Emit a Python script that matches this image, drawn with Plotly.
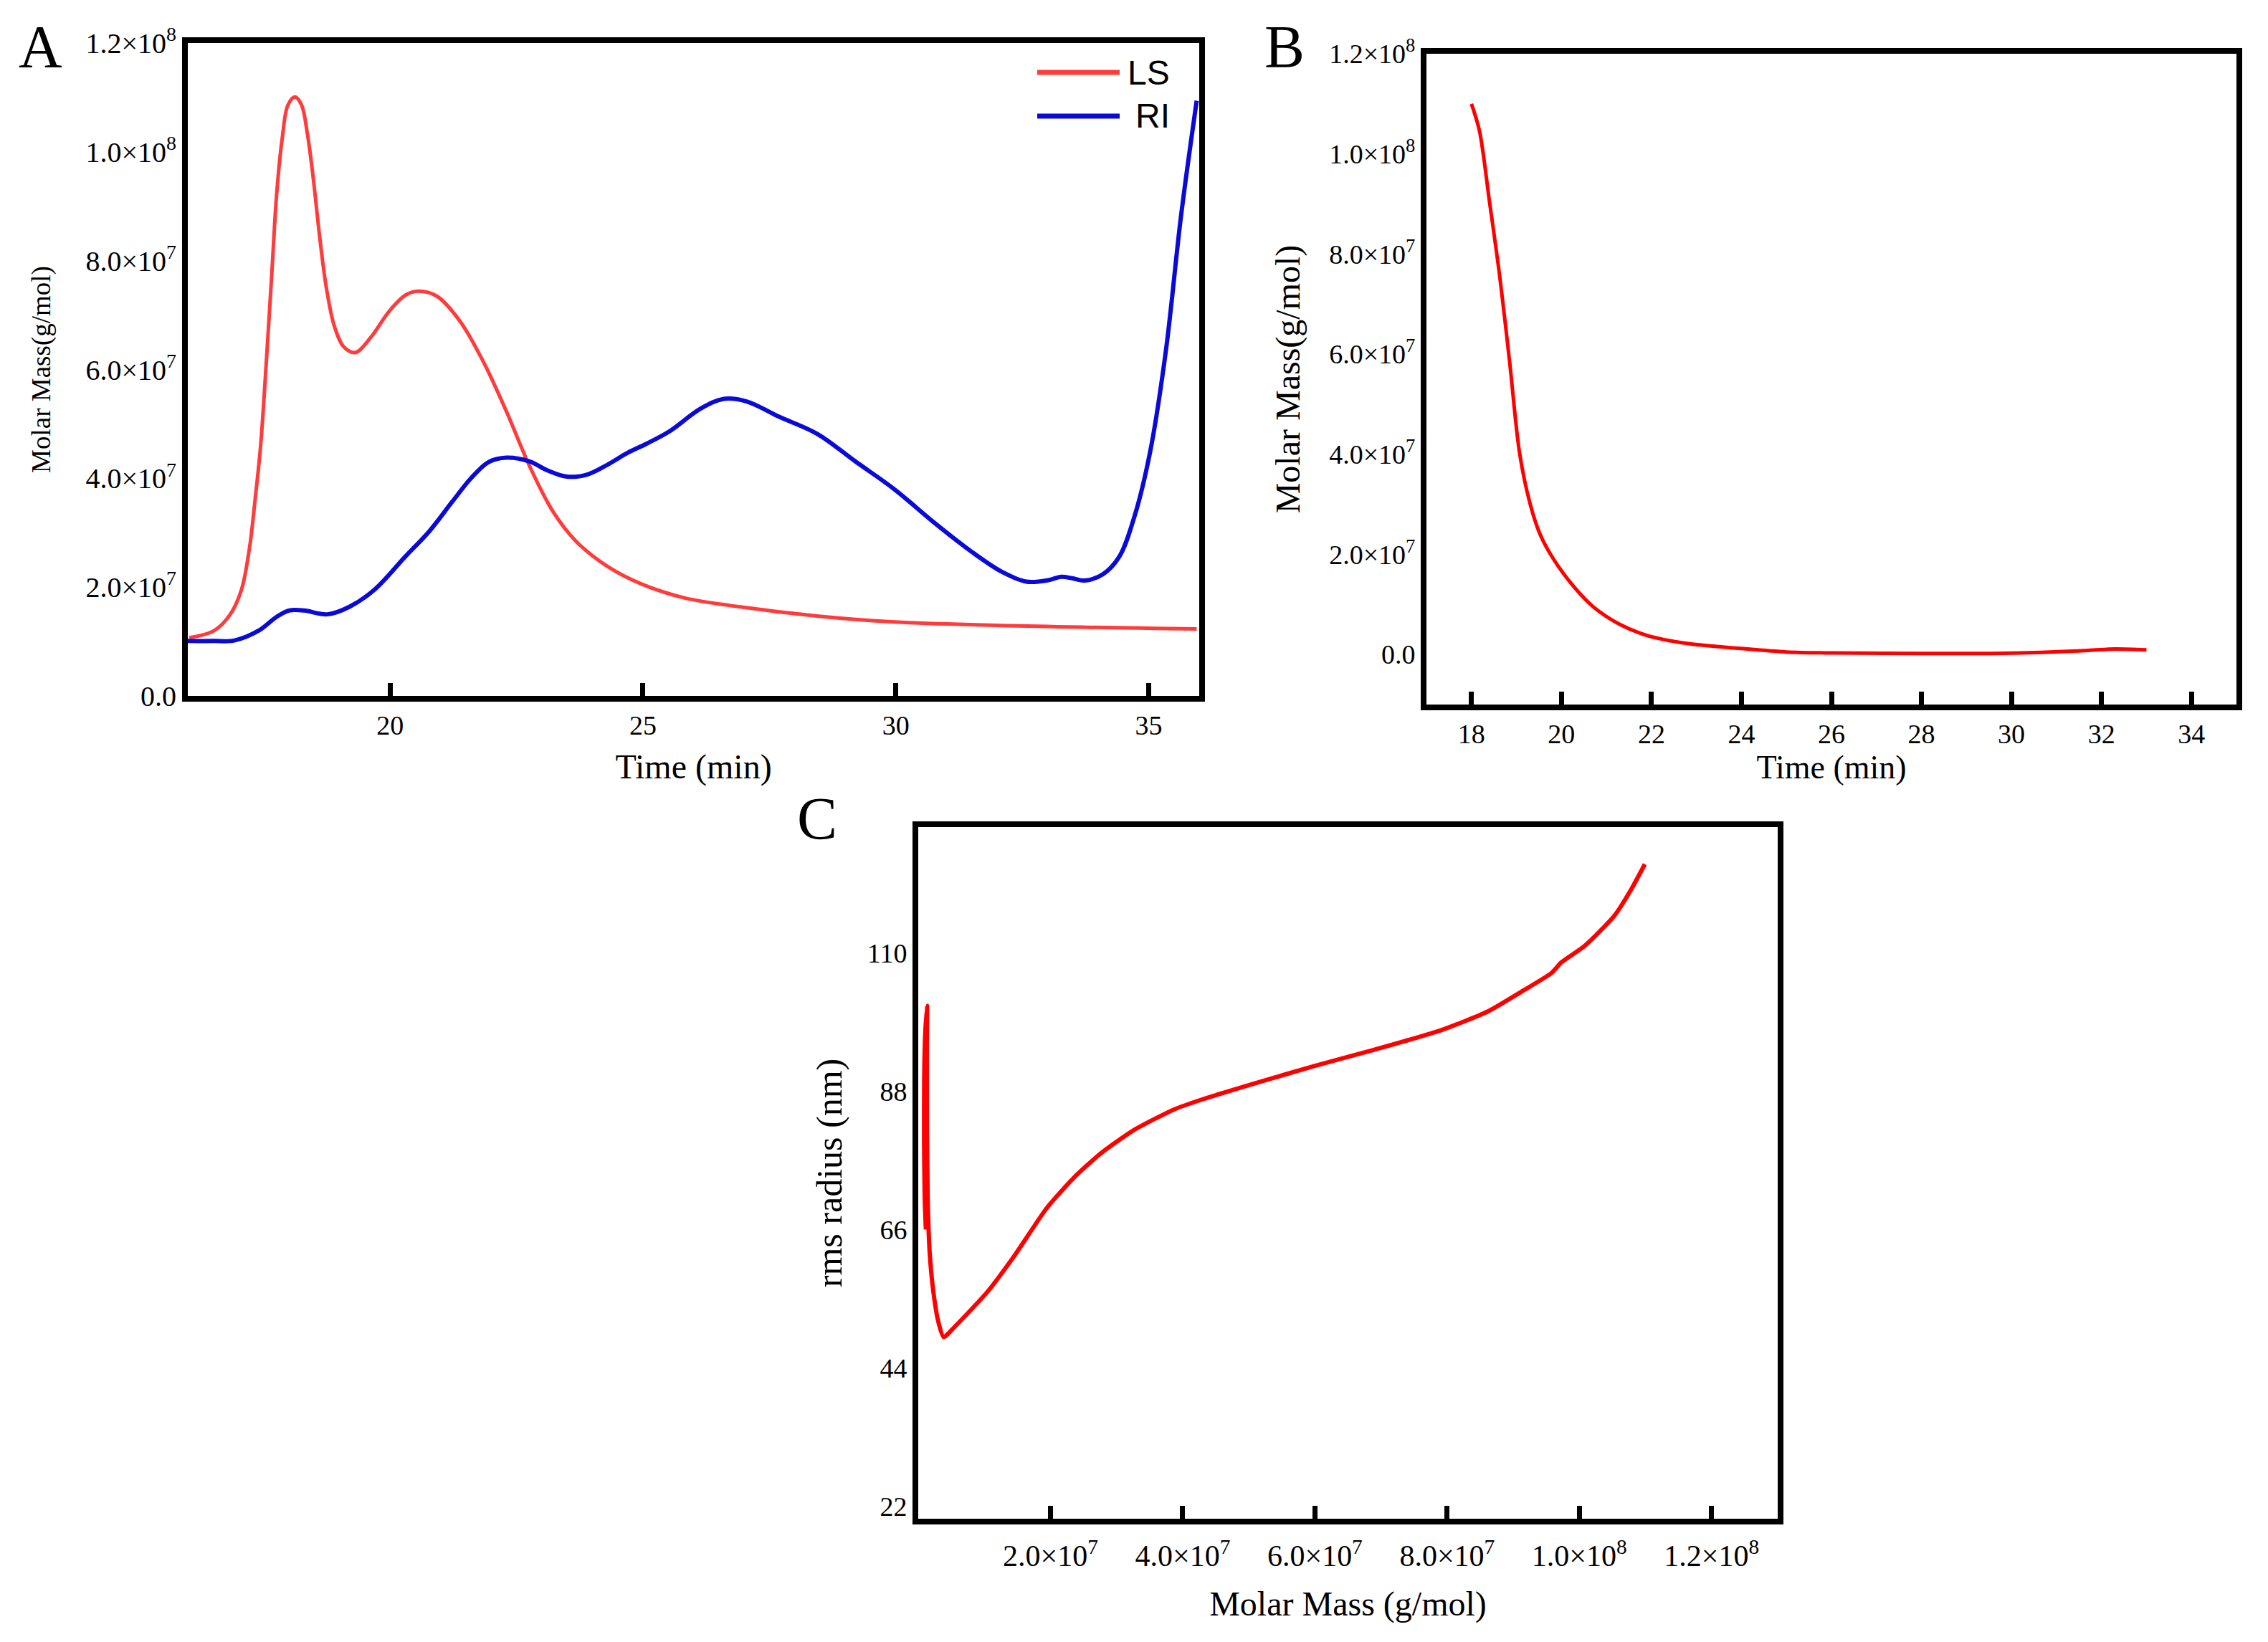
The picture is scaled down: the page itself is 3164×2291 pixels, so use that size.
import plotly.graph_objects as go

# ---------------- Data ----------------
# Panel A: LS and RI signals vs time
a_time_ls = [16.03, 16.52, 16.84, 17.06, 17.22, 17.33, 17.44, 17.55, 17.66, 17.76, 17.87, 17.98,
             18.12, 18.25, 18.36, 18.47, 18.61, 18.74, 18.9, 19.09, 19.31, 19.61, 19.99, 20.31,
             20.56, 20.92, 21.38, 21.84, 22.3, 22.76, 23.22, 23.68, 24.3, 24.99, 25.83, 26.9,
             28.44, 29.97, 32.27, 35.95]
a_ls = [1.07e7, 1.20e7, 1.50e7, 1.95e7, 2.72e7, 3.6e7, 4.6e7, 6.1e7, 7.75e7, 9.26e7, 1.027e8, 1.086e8,
        1.101e8, 1.086e8, 1.036e8, 9.6e7, 8.42e7, 7.5e7, 6.79e7, 6.41e7, 6.31e7, 6.58e7, 7.08e7, 7.37e7,
        7.44e7, 7.35e7, 6.89e7, 6.15e7, 5.23e7, 4.22e7, 3.39e7, 2.84e7, 2.38e7, 2.05e7, 1.80e7, 1.64e7,
        1.47e7, 1.36e7, 1.29e7, 1.23e7]

a_time_ri = [16.0, 16.5, 16.92, 17.4, 17.75, 18.0, 18.3, 18.76, 19.2, 19.7, 20.3, 20.77, 21.23, 21.6,
             21.95, 22.3, 22.76, 23.1, 23.5, 23.9, 24.3, 24.7, 25.06, 25.52, 26.14, 26.6, 27.06,
             27.67, 28.44, 29.2, 29.97, 30.74, 31.5, 32.1, 32.58, 33.03, 33.27, 33.5, 33.73, 34.1,
             34.42, 34.72, 35.03, 35.34, 35.64, 35.95]
a_ri = [1.01e7, 1.01e7, 1.02e7, 1.20e7, 1.45e7, 1.57e7, 1.57e7, 1.5e7, 1.64e7, 1.96e7, 2.56e7, 3.02e7,
        3.57e7, 4.0e7, 4.3e7, 4.38e7, 4.31e7, 4.15e7, 4.03e7, 4.07e7, 4.25e7, 4.47e7, 4.63e7, 4.86e7,
        5.28e7, 5.46e7, 5.41e7, 5.14e7, 4.82e7, 4.31e7, 3.8e7, 3.2e7, 2.65e7, 2.28e7, 2.1e7, 2.13e7,
        2.19e7, 2.16e7, 2.12e7, 2.24e7, 2.56e7, 3.3e7, 4.49e7, 6.34e7, 8.82e7, 1.094e8]

# Panel B: molar mass vs time
b_time = [18.0, 18.18, 18.4, 18.63, 18.85, 19.07, 19.3, 19.52, 19.82, 20.27, 20.71, 21.3, 21.9,
          22.79, 23.98, 25.0, 26.07, 28.0, 30.2, 31.7, 32.3, 33.0]
b_mass = [1.10e8, 1.045e8, 9.05e7, 7.54e7, 5.83e7, 4.02e7, 3.02e7, 2.41e7, 1.91e7, 1.36e7, 9.5e6,
          6.0e6, 3.8e6, 2.2e6, 1.2e6, 0.5e6, 0.3e6, 0.2e6, 0.3e6, 0.8e6, 1.1e6, 0.9e6]

# Panel C: rms radius vs molar mass
c_mass = [1.099e8, 1.079e8, 1.053e8, 1.008e8, 9.73e7, 9.58e7, 9.12e7, 8.62e7, 7.91e7, 6.9e7, 5.99e7,
          5.08e7, 4.27e7, 3.87e7, 3.26e7, 2.76e7, 2.35e7, 1.95e7, 1.44e7, 1.04e7, 5.4e6, 3.85e6,
          3.0e6, 2.3e6, 1.75e6, 1.45e6, 1.32e6, 1.3e6, 1.33e6, 1.05e6, 0.9e6, 0.88e6, 0.98e6, 1.15e6]
c_radius = [124.1, 120.2, 115.9, 111.1, 108.5, 106.8, 103.8, 100.7, 97.7, 94.6, 92.0,
            89.2, 86.6, 85.1, 81.8, 78.1, 74.2, 69.5, 61.6, 56.0, 50.4, 48.9,
            51.5, 56.0, 62.0, 70.0, 82.0, 94.0, 101.6, 97.0, 90.0, 80.0, 71.0, 66.0]

# Tick labels
mass_ticks_ab = [0, 2e7, 4e7, 6e7, 8e7, 1e8, 1.2e8]
mass_labels_ab = ["0.0", "2.0×10<sup>7</sup>", "4.0×10<sup>7</sup>", "6.0×10<sup>7</sup>",
                  "8.0×10<sup>7</sup>", "1.0×10<sup>8</sup>", "1.2×10<sup>8</sup>"]
a_time_ticks = [20, 25, 30, 35]
b_time_ticks = [18, 20, 22, 24, 26, 28, 30, 32, 34]
c_mass_ticks = [2e7, 4e7, 6e7, 8e7, 1e8, 1.2e8]
c_mass_labels = ["2.0×10<sup>7</sup>", "4.0×10<sup>7</sup>", "6.0×10<sup>7</sup>",
                 "8.0×10<sup>7</sup>", "1.0×10<sup>8</sup>", "1.2×10<sup>8</sup>"]
c_radius_ticks = [22, 44, 66, 88, 110]

# ---------------- Figure ----------------
W, H = 3164, 2291
SERIF = "Liberation Serif, Times New Roman, serif"
SANS = "Liberation Sans, Arial, sans-serif"

fig = go.Figure()
fig.add_trace(go.Scatter(x=a_time_ls, y=a_ls, mode="lines", name="LS", showlegend=False,
                         line=dict(color="#FF3B3B", width=5, shape="spline", smoothing=1.0),
                         xaxis="x", yaxis="y"))
fig.add_trace(go.Scatter(x=a_time_ri, y=a_ri, mode="lines", name="RI", showlegend=False,
                         line=dict(color="#0A0AD8", width=6, shape="spline", smoothing=1.0),
                         xaxis="x", yaxis="y"))
fig.add_trace(go.Scatter(x=b_time, y=b_mass, mode="lines", showlegend=False,
                         line=dict(color="#FF0000", width=5, shape="spline", smoothing=0.9),
                         xaxis="x2", yaxis="y2"))
fig.add_trace(go.Scatter(x=c_mass, y=c_radius, mode="lines", showlegend=False,
                         line=dict(color="#FF0000", width=6, shape="spline", smoothing=0.6),
                         xaxis="x3", yaxis="y3"))


def px_x(p):
    return p / W


def px_y(p):
    return 1 - p / H


common_axis = dict(showline=True, linecolor="black", linewidth=8, mirror=True,
                   showgrid=False, zeroline=False, automargin=False)

fig.update_layout(
    width=W, height=H, autosize=False,
    margin=dict(l=0, r=0, t=0, b=0, autoexpand=False),
    paper_bgcolor="white", plot_bgcolor="white",
    showlegend=False,
    # Panel A
    xaxis=dict(domain=[px_x(262), px_x(1673)], range=[16, 36], anchor="y",
               tickvals=a_time_ticks, ticks="inside", ticklen=18, tickwidth=7, tickcolor="black",
               tickfont=dict(family=SERIF, size=38, color="black"),
               title=dict(text="Time (min)", font=dict(family=SERIF, size=48, color="black"), standoff=24),
               **common_axis),
    yaxis=dict(domain=[px_y(971), px_y(60)], range=[0, 1.2e8], anchor="x",
               tickvals=mass_ticks_ab, ticktext=mass_labels_ab, ticks="",
               tickfont=dict(family=SERIF, size=40, color="black"),
               title=dict(text="Molar Mass(g/mol)", font=dict(family=SERIF, size=37, color="black"), standoff=40),
               **common_axis),
    # Panel B
    xaxis2=dict(domain=[px_x(1990), px_x(3120)], range=[17, 35], anchor="y2",
                tickvals=b_time_ticks, ticks="inside", ticklen=18, tickwidth=7, tickcolor="black",
                tickfont=dict(family=SERIF, size=38, color="black"),
                title=dict(text="Time (min)", font=dict(family=SERIF, size=46, color="black"), standoff=0),
                **common_axis),
    yaxis2=dict(domain=[px_y(983), px_y(75)], range=[-1.0e7, 1.2e8], anchor="x2",
                tickvals=mass_ticks_ab, ticktext=mass_labels_ab, ticks="",
                tickfont=dict(family=SERIF, size=38, color="black"),
                title=dict(text="Molar Mass(g/mol)", font=dict(family=SERIF, size=48, color="black"), standoff=28),
                **common_axis),
    # Panel C
    xaxis3=dict(domain=[px_x(1281), px_x(2480)], range=[0, 1.3e8], anchor="y3",
                tickvals=c_mass_ticks, ticktext=c_mass_labels, ticks="inside", ticklen=18, tickwidth=7,
                tickcolor="black", ticklabelstandoff=8,
                tickfont=dict(family=SERIF, size=42, color="black"),
                title=dict(text="Molar Mass (g/mol)", font=dict(family=SERIF, size=48, color="black"), standoff=30),
                **common_axis),
    yaxis3=dict(domain=[px_y(2119), px_y(1154)], range=[20, 130], anchor="x3",
                tickvals=c_radius_ticks, ticks="",
                tickfont=dict(family=SERIF, size=38, color="black"),
                title=dict(text="rms radius (nm)", font=dict(family=SERIF, size=50, color="black"), standoff=22),
                **common_axis),
)

# Panel letters
for letter, x, y in [("A", 56, 65), ("B", 1792, 65), ("C", 1140, 1142)]:
    fig.add_annotation(text=letter, x=px_x(x), y=px_y(y), xref="paper", yref="paper",
                       showarrow=False, xanchor="center", yanchor="middle",
                       font=dict(family=SERIF, size=84, color="black"))

# Legend for panel A (drawn to match the reference's long line samples)
legend_items = [("LS", "#FF3B3B", 101), ("RI", "#0A0AD8", 162)]
for label, color, yy in legend_items:
    fig.add_shape(type="line", xref="paper", yref="paper",
                  x0=px_x(1447), x1=px_x(1562), y0=px_y(yy), y1=px_y(yy),
                  line=dict(color=color, width=7))
    fig.add_annotation(text=label, x=px_x(1634), y=px_y(yy), xref="paper", yref="paper",
                       showarrow=False, xanchor="right", yanchor="middle",
                       font=dict(family=SANS, size=48, color="black"))

fig.write_html("out.html")
